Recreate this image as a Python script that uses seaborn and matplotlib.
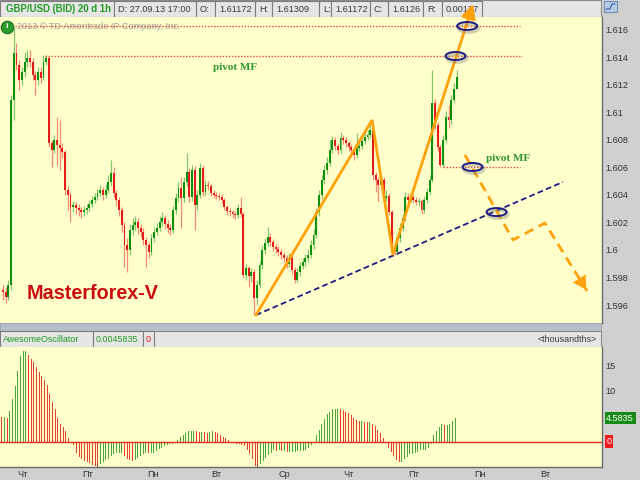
import numpy as np
import pandas as pd
import matplotlib
matplotlib.use("Agg")
import matplotlib.pyplot as plt
from matplotlib.patches import Rectangle, Ellipse
import seaborn as sns

# ---------------- data ----------------
symbol = "GBP/USD (BID) 20 d 1h"
bar_time = "D: 27.09.13 17:00"
first_open = 1.59709

closes = [
    1.59694, 1.59658, 1.59745, 1.61091, 1.61433, 1.61345, 1.61236, 1.61294, 1.61367, 1.61396,
    1.61367, 1.61273, 1.61236, 1.61294, 1.61251, 1.61367, 1.61396, 1.60778, 1.60727, 1.60800,
    1.60763, 1.60742, 1.60713, 1.60436, 1.60400, 1.60313, 1.60327, 1.60305, 1.60291, 1.60276,
    1.60291, 1.60305, 1.60334, 1.60364, 1.60385, 1.60414, 1.60436, 1.60400, 1.60436, 1.60494,
    1.60560, 1.60414, 1.60364, 1.60291, 1.60182, 1.60036, 1.60000, 1.60145, 1.60182, 1.60203,
    1.60160, 1.60131, 1.60073, 1.60036, 1.59985, 1.60087, 1.60131, 1.60160, 1.60203, 1.60232,
    1.60189, 1.60160, 1.60145, 1.60291, 1.60378, 1.60451, 1.60378, 1.60494, 1.60567, 1.60385,
    1.60582, 1.60327, 1.60400, 1.60596, 1.60422, 1.60473, 1.60465, 1.60414, 1.60400, 1.60393,
    1.60385, 1.60364, 1.60313, 1.60283, 1.60276, 1.60262, 1.60254, 1.60305, 1.60262, 1.59818,
    1.59869, 1.59811, 1.59840, 1.59651, 1.59745, 1.59891, 1.60000, 1.60051, 1.60094, 1.60058,
    1.60022, 1.60007, 1.59985, 1.59964, 1.59942, 1.59898, 1.59942, 1.59855, 1.59782, 1.59840,
    1.59884, 1.59913, 1.59942, 1.59964, 1.60036, 1.60109, 1.60276, 1.60400, 1.60509, 1.60582,
    1.60633, 1.60727, 1.60800, 1.60756, 1.60727, 1.60814, 1.60800, 1.60778, 1.60749, 1.60727,
    1.60691, 1.60742, 1.60756, 1.60793, 1.60822, 1.60836, 1.60873, 1.60545, 1.60509, 1.60473,
    1.60509, 1.60378, 1.60393, 1.60276, 1.60014, 1.59985, 1.60087, 1.60160, 1.60232, 1.60385,
    1.60364, 1.60385, 1.60364, 1.60349, 1.60356, 1.60291, 1.60364, 1.60422, 1.60509, 1.61069,
    1.60909, 1.60749, 1.60618, 1.60800, 1.60967, 1.60945, 1.61091, 1.61172, 1.61260,
]

highs = [
    1.59745, 1.59731, 1.59782, 1.61127, 1.61622, 1.61505, 1.61382, 1.61330, 1.61440, 1.61454,
    1.61454, 1.61396, 1.61300, 1.61330, 1.61330, 1.61418, 1.61418, 1.61403, 1.60800, 1.60836,
    1.60967, 1.60945, 1.60778, 1.60727, 1.60465, 1.60422, 1.60356, 1.60349, 1.60334, 1.60313,
    1.60320, 1.60334, 1.60364, 1.60393, 1.60414, 1.60443, 1.60473, 1.60458, 1.60480, 1.60545,
    1.60654, 1.60603, 1.60436, 1.60385, 1.60313, 1.60203, 1.60087, 1.60189, 1.60232, 1.60247,
    1.60232, 1.60189, 1.60160, 1.60094, 1.60058, 1.60116, 1.60167, 1.60196, 1.60247, 1.60276,
    1.60254, 1.60218, 1.60189, 1.60320, 1.60414, 1.60494, 1.60531, 1.60531, 1.60705, 1.60596,
    1.60618, 1.60611, 1.60436, 1.60633, 1.60618, 1.60509, 1.60502, 1.60480, 1.60436, 1.60422,
    1.60414, 1.60407, 1.60378, 1.60327, 1.60305, 1.60291, 1.60283, 1.60334, 1.60385, 1.60276,
    1.59898, 1.59884, 1.59869, 1.59862, 1.59782, 1.59920, 1.60036, 1.60087, 1.60167, 1.60123,
    1.60080, 1.60044, 1.60029, 1.60007, 1.59985, 1.59964, 1.59978, 1.59964, 1.59876, 1.59869,
    1.59913, 1.59942, 1.59971, 1.60007, 1.60073, 1.60152, 1.60305, 1.60436, 1.60545, 1.60618,
    1.60676, 1.60800, 1.60829, 1.60822, 1.60778, 1.60858, 1.60836, 1.60822, 1.60793, 1.60771,
    1.60742, 1.60851, 1.60793, 1.60829, 1.60858, 1.60873, 1.60945, 1.60909, 1.60567, 1.60531,
    1.60545, 1.60531, 1.60436, 1.60414, 1.60291, 1.60036, 1.60116, 1.60196, 1.60262, 1.60422,
    1.60414, 1.60414, 1.60400, 1.60385, 1.60378, 1.60371, 1.60393, 1.60451, 1.60545, 1.61309,
    1.61098, 1.60929, 1.60763, 1.60836, 1.61011, 1.61054, 1.61127, 1.61214, 1.61309,
]

lows = [
    1.59636, 1.59614, 1.59636, 1.59709, 1.60945, 1.61309, 1.61163, 1.61200, 1.61258, 1.61330,
    1.61330, 1.61236, 1.61127, 1.61200, 1.61214, 1.61236, 1.61345, 1.60749, 1.60603, 1.60705,
    1.60618, 1.60582, 1.60669, 1.60400, 1.60291, 1.60203, 1.60276, 1.60262, 1.60247, 1.60232,
    1.60247, 1.60262, 1.60283, 1.60313, 1.60342, 1.60364, 1.60393, 1.60364, 1.60378, 1.60414,
    1.60465, 1.60385, 1.60320, 1.60247, 1.60131, 1.59876, 1.59840, 1.59964, 1.60109, 1.60145,
    1.60116, 1.60094, 1.60036, 1.59876, 1.59942, 1.59964, 1.60058, 1.60109, 1.60138, 1.60174,
    1.60152, 1.60123, 1.60109, 1.60123, 1.60262, 1.60349, 1.60160, 1.60349, 1.60465, 1.60349,
    1.60356, 1.60145, 1.60291, 1.60378, 1.60393, 1.60400, 1.60436, 1.60393, 1.60378, 1.60371,
    1.60364, 1.60342, 1.60291, 1.60254, 1.60247, 1.60232, 1.60225, 1.60232, 1.60240, 1.59796,
    1.59782, 1.59731, 1.59767, 1.59527, 1.59600, 1.59723, 1.59862, 1.59971, 1.60029, 1.60029,
    1.59993, 1.59978, 1.59956, 1.59935, 1.59913, 1.59869, 1.59876, 1.59825, 1.59760, 1.59767,
    1.59811, 1.59862, 1.59884, 1.59913, 1.59942, 1.60007, 1.60087, 1.60247, 1.60371, 1.60480,
    1.60553, 1.60611, 1.60705, 1.60727, 1.60698, 1.60705, 1.60771, 1.60749, 1.60720, 1.60698,
    1.60654, 1.60669, 1.60720, 1.60734, 1.60771, 1.60800, 1.60814, 1.60509, 1.60422, 1.60356,
    1.60451, 1.60356, 1.60356, 1.60254, 1.59993, 1.59964, 1.59971, 1.60058, 1.60138, 1.60210,
    1.60342, 1.60349, 1.60342, 1.60327, 1.60320, 1.60262, 1.60269, 1.60342, 1.60400, 1.60494,
    1.60880, 1.60720, 1.60603, 1.60603, 1.60778, 1.60887, 1.60916, 1.61069, 1.61172,
]

ao_values = [
    4.8, 4.8, 4.7, 5.9, 8.3, 10.9, 13.9, 16.7, 17.7, 17.7,
    16.9, 16.1, 15.5, 14.6, 13.7, 12.8, 12.0, 11.0, 9.3, 7.8,
    6.3, 4.7, 3.5, 2.9, 2.0, 0.7, -0.2, -0.7, -2.2, -3.1,
    -3.5, -3.9, -4.1, -4.3, -4.6, -4.9, -5.0, -4.4, -4.0, -3.7,
    -3.4, -2.9, -2.5, -2.3, -2.3, -2.3, -2.9, -3.5, -3.7, -3.9,
    -3.7, -3.2, -2.9, -2.5, -2.2, -2.3, -2.3, -2.3, -1.9, -1.5,
    -1.2, -0.9, -0.7, -0.5, -0.4, -0.2, 0.3, 0.8, 1.3, 1.6,
    2.0, 2.1, 2.1, 2.0, 1.9, 1.9, 1.8, 1.6, 1.9, 2.0,
    1.8, 1.6, 1.3, 0.9, 0.6, 0.3, -0.1, -0.3, -0.4, -0.5,
    -0.7, -0.9, -1.7, -2.5, -3.5, -4.8, -5.0, -4.4, -3.9, -3.2,
    -2.7, -2.2, -1.7, -1.9, -1.7, -1.9, -1.9, -2.0, -2.0, -2.0,
    -2.0, -1.9, -1.9, -1.8, -1.6, -1.3, -0.7, -0.2, 1.3,
    2.3, 3.5, 4.5, 5.3, 5.8, 6.3, 6.4, 6.4, 6.3, 6.1,
    5.8, 5.5, 5.1, 4.7, 4.3, 4.1, 4.1, 3.9, 3.8, 3.8,
    3.5, 3.1, 2.3, 1.6, 0.7, -0.3, -1.2, -2.0, -2.9, -3.7,
    -4.0, -4.0, -3.5, -3.1, -2.5, -2.4, -2.2, -2.0, -1.7, -1.7,
    -1.7, -1.3, -0.5, 1.3, 2.1, 2.9, 3.5, 3.3, 3.3, 3.5,
    4.0, 4.5835,
]

price_ticks = [1.616, 1.614, 1.612, 1.610, 1.608, 1.606, 1.604, 1.602, 1.600, 1.598, 1.596]
ao_ticks = [15, 10]
day_labels = ["Чт", "Пт", "Пн", "Вт", "Ср", "Чт", "Пт", "Пн", "Вт"]
ao_name = "AwesomeOscillator"
ao_units = "<thousandths>"
brand = "Masterforex-V"
pivot_label = "pivot MF"
copyright_text = "2013 \u00a9 TD Ameritrade IP Company, Inc."

# chart drawings (bar index, price)
wave_x = [93.7, 136.7, 144.4]
wave_y = [1.59527, 1.60945, 1.59971]
wave_tip = (174.1, 1.61789)
forecast_x = [171.1, 188.9, 200.7, 216.3]
forecast_y = [1.60691, 1.60073, 1.60196, 1.59702]
trend_x = [93.7, 207.4]
trend_y = [1.59527, 1.60495]
levels = [(1.61629, 4.4, 191.5), (1.61411, 15.6, 192.2), (1.60604, 163.0, 191.5)]
circles = [(171.9, 1.61629), (167.6, 1.61411), (173.9, 1.60604), (182.8, 1.60276)]
pivot_pos = [(85.9, 1.61324), (187.0, 1.60669)]
day_pos = [7.6, 32.4, 56.7, 80.4, 105.9, 130.2, 154.6, 179.4, 203.7]

# ---------------- style ----------------
sns.set_theme(style="white")
plt.rcParams["font.family"] = ["Liberation Sans", "DejaVu Sans"]

GREEN = "#0f8f0f"
RED = "#e41b1b"
ORANGE = "#ffa10a"
NAVY = "#1c1c86"
YELLOW = "#ffffcc"
TXT = "#333333"

W, H = 640, 480
fig = plt.figure(figsize=(6.4, 4.8), dpi=100, facecolor="#d0d0d0")


def frac(x0, y0, x1, y1):
    return [x0 / W, 1 - y1 / H, (x1 - x0) / W, (y1 - y0) / H]


bg = fig.add_axes([0, 0, 1, 1], zorder=0)
bg.set_xlim(0, W)
bg.set_ylim(H, 0)
bg.axis("off")

ax = fig.add_axes(frac(0, 17, 602, 323), zorder=2)
ax2 = fig.add_axes(frac(0, 347, 602, 467), zorder=2)

# ---------------- header chrome ----------------
opens = [first_open] + closes[:-1]


def fmt(v):
    return f"{v:.5f}".rstrip("0")


header_texts = [symbol, bar_time, "O:", fmt(opens[-1]), "H:", fmt(highs[-1]),
                "L:", fmt(lows[-1]), "C:", fmt(closes[-1]), "R:", fmt(highs[-1] - lows[-1])]
header_cells = [(0, 114), (114, 196), (196, 215), (215, 255), (255, 272), (272, 319),
                (319, 331), (331, 370), (370, 388), (388, 423), (423, 442), (442, 482)]
bg.add_patch(Rectangle((0, 0), 601, 16.5, fc="#e6e6e6", ec="#8a8a8a", lw=0.8))
for (x0, x1), t in zip(header_cells, header_texts):
    bg.add_patch(Rectangle((x0, 0.5), x1 - x0, 16, fc="#e6e6e6", ec="#7d7d7d", lw=0.8))
    if t == symbol:
        bg.text(x0 + 6, 9, t, color="#1f9a1f", fontsize=6.9, fontweight="bold", va="center", ha="left")
    else:
        bg.text(x0 + 4, 9, t, color="#3a3a3a", fontsize=6.6, va="center", ha="left")

# small icon at top right
bg.add_patch(Rectangle((604, 1), 13, 11, fc="#b8cce4", ec="#6f8fb8", lw=0.8))
bg.plot([606, 610, 612, 615], [9, 9, 4, 4], color="#3060a0", lw=0.8)

# divider between panels
bg.add_patch(Rectangle((0, 323), 601, 8, fc="#b7bfcc", ec="none", hatch="....", lw=0))
bg.add_patch(Rectangle((0, 323), 601, 8, fc="none", ec="#9aa3b3", lw=0.6))

# oscillator header
ao_cells = [(0, 93), (93, 143), (143, 154)]
ao_head = [ao_name, f"{ao_values[-1] / 1000:.7f}", "0"]
ao_cols = ["#1f9a1f", "#1f9a1f", "#e41b1b"]
bg.add_patch(Rectangle((0, 331), 601, 15.5, fc="#e6e6e6", ec="#8a8a8a", lw=0.8))
for (x0, x1), t, c in zip(ao_cells, ao_head, ao_cols):
    bg.add_patch(Rectangle((x0, 331), x1 - x0, 15.5, fc="#e6e6e6", ec="#7d7d7d", lw=0.8))
    bg.text(x0 + 3, 339, t, color=c, fontsize=6.4, va="center", ha="left")
bg.text(597, 339, ao_units, color="#3a3a3a", fontsize=6.4, va="center", ha="right")

# ---------------- price panel ----------------
ax.set_facecolor(YELLOW)
idx = np.arange(len(closes))
o = np.array(opens)
c = np.array(closes)
hi = np.array(highs)
lo = np.array(lows)
up = c >= o
cols = np.where(up, GREEN, RED)
ax.vlines(idx, lo, hi, colors=cols, lw=0.9, alpha=0.5, zorder=2)
body_h = np.maximum(np.abs(c - o), 0.00007)
ax.bar(idx, body_h, bottom=np.minimum(o, c), width=0.72, color=cols, linewidth=0, zorder=3)

# levels
for p, x0, x1 in levels:
    ax.hlines(p, x0, x1, colors="#e8453c", lw=1.0, linestyles=(0, (1, 1.2)), zorder=4)

# trend line
ax.plot(trend_x, trend_y, color=NAVY, lw=1.3, dashes=(3.2, 1.8), zorder=4)

# wave
ax.plot(wave_x, wave_y, color=ORANGE, lw=2.0, solid_joinstyle="miter", zorder=5)
ax.annotate("", xy=wave_tip, xytext=(wave_x[-1], wave_y[-1]), annotation_clip=False,
            arrowprops=dict(arrowstyle="-|>,head_length=0.7,head_width=0.35", color=ORANGE,
                            lw=2.0, shrinkA=0, shrinkB=0, mutation_scale=12), zorder=5)

# forecast (dashed)
ax.plot(forecast_x, forecast_y, color=ORANGE, lw=2.0, dashes=(3.5, 2.2), zorder=5)
tail = (forecast_x[-2] + 0.8 * (forecast_x[-1] - forecast_x[-2]),
        forecast_y[-2] + 0.8 * (forecast_y[-1] - forecast_y[-2]))
ax.annotate("", xy=(forecast_x[-1], forecast_y[-1]), xytext=tail, annotation_clip=False,
            arrowprops=dict(arrowstyle="-|>,head_length=0.8,head_width=0.45", fc=ORANGE,
                            ec="none", shrinkA=0, shrinkB=0, mutation_scale=12), zorder=5)

# circles
for cx, cy in circles:
    ax.add_patch(Ellipse((cx + 0.5, cy - 0.00016), 7.4, 0.00058, fill=False, ec="#7a7a7a",
                         lw=2.4, alpha=0.35, zorder=6))
    ax.add_patch(Ellipse((cx, cy), 7.4, 0.00058, fill=False, ec=NAVY, lw=1.4, zorder=7))

# texts
for px, py in pivot_pos:
    ax.text(px, py, pivot_label, color="#2f9a2f", fontsize=8, fontweight="bold",
            fontfamily="Liberation Serif", ha="center", va="center", zorder=6)
ax.text(8.9, 1.59687, brand, color="#cc0d0d", fontsize=14.2, fontweight="bold",
        ha="left", va="center", zorder=6)
ax.text(5.2, 1.61629, copyright_text, color="#a0a0a0", fontsize=6.6, ha="left", va="center", zorder=3)
ax.plot([1.4], [1.61622], marker="o", ms=9, color="#2b9b2b", mec="#1d6e1d", mew=0.8,
        clip_on=False, zorder=8)
ax.text(1.4, 1.61622, "i", color="white", fontsize=6, fontweight="bold", ha="center",
        va="center", zorder=9, clip_on=False)

ax.set_xlim(-1.11, 221.85)
ax.set_ylim(1.594691, 1.616945)
ax.yaxis.tick_right()
ax.set_yticks(price_ticks)
ax.set_yticklabels([f"{t:g}" for t in price_ticks])
ax.tick_params(axis="y", length=0, pad=2.5, labelsize=6.6, labelcolor=TXT)
ax.set_xticks([])
for s in ["top", "left", "bottom"]:
    ax.spines[s].set_visible(False)
ax.spines["right"].set_color("#6a6a6a")
ax.spines["right"].set_linewidth(1.0)

# ---------------- oscillator panel ----------------
ax2.set_facecolor(YELLOW)
ao = np.array(ao_values)
dirs = ["up" if i > 0 and ao[i] >= ao[i - 1] else "down" for i in range(len(ao))]
df = pd.DataFrame({"bar": np.arange(len(ao)), "ao": ao, "dir": dirs})
sns.barplot(data=df, x="bar", y="ao", hue="dir", palette={"up": "#4aa83a", "down": "#e8402e"},
            native_scale=True, width=0.38, dodge=False, errorbar=None, legend=False,
            saturation=1, linewidth=0, ax=ax2, zorder=3)
ax2.axhline(0, color="#e62a20", lw=1.0, zorder=4)
ax2.set_xlim(-0.64, 225.1)
ax2.set_ylim(-5.0, 18.53)
ax2.set_xlabel("")
ax2.set_ylabel("")
ax2.yaxis.tick_right()
ax2.set_yticks(ao_ticks)
ax2.set_yticklabels([str(t) for t in ao_ticks])
ax2.tick_params(axis="y", length=0, pad=2.5, labelsize=6.6, labelcolor=TXT)
ax2.set_xticks(day_pos)
ax2.set_xticklabels(day_labels)
ax2.tick_params(axis="x", length=0, pad=2.5, labelsize=6.6, labelcolor=TXT)
for s in ["top", "left"]:
    ax2.spines[s].set_visible(False)
for s in ["right", "bottom"]:
    ax2.spines[s].set_color("#6a6a6a")
    ax2.spines[s].set_linewidth(1.0)

ax2.annotate(f"{ao_values[-1]:.4f}", xy=(1, ao_values[-1]), xycoords=("axes fraction", "data"),
             xytext=(3, 0), textcoords="offset points", va="center", ha="left", color="white",
             fontsize=6.6, annotation_clip=False,
             bbox=dict(boxstyle="square,pad=0.18", fc="#168a16", ec="none"))
ax2.annotate("0", xy=(1, 0), xycoords=("axes fraction", "data"),
             xytext=(3, 0), textcoords="offset points", va="center", ha="left", color="white",
             fontsize=6.6, annotation_clip=False,
             bbox=dict(boxstyle="square,pad=0.18", fc="#ee1c1c", ec="none"))

fig.savefig("out.png", dpi=100, facecolor=fig.get_facecolor())
